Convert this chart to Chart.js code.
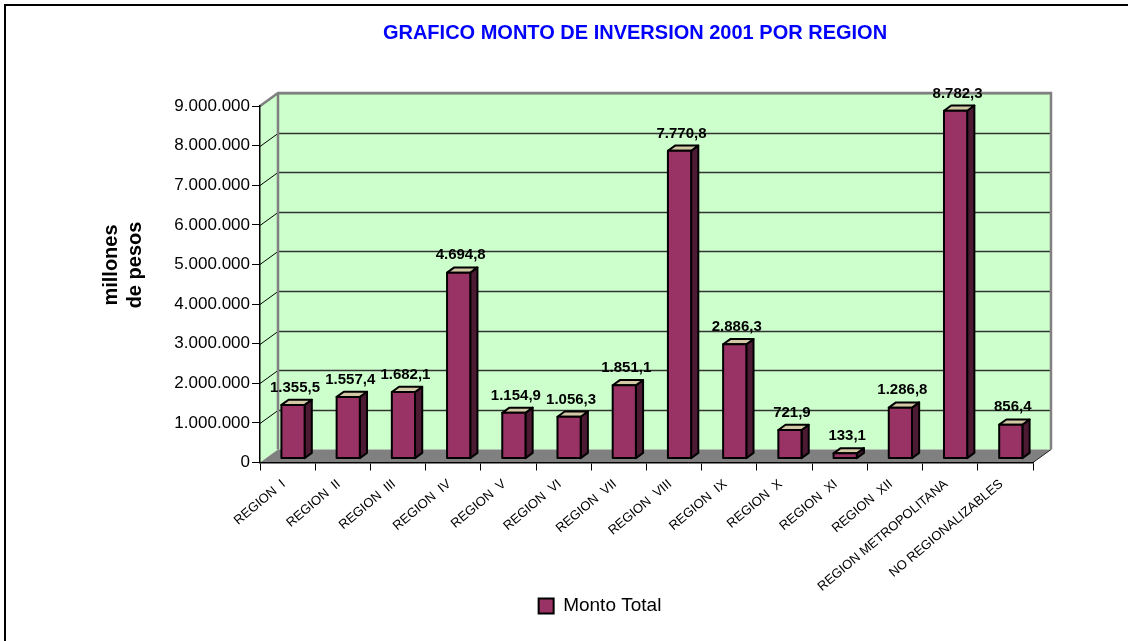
<!DOCTYPE html>
<html>
<head>
<meta charset="utf-8">
<script src="https://cdn.jsdelivr.net/npm/chart.js@4/dist/chart.umd.min.js"></script>
<style>
  html, body { margin: 0; padding: 0; background: #fff; }
  #wrap { width: 1128px; height: 641px; }
</style>
</head>
<body>
<div id="wrap"><canvas id="chart" width="1128" height="641"></canvas></div>
<script>
// ---- Data (millones de pesos, as printed on the bars) ----
const regions = [
  'REGION  I', 'REGION  II', 'REGION  III', 'REGION  IV', 'REGION  V', 'REGION  VI',
  'REGION  VII', 'REGION  VIII', 'REGION  IX', 'REGION  X', 'REGION  XI', 'REGION  XII',
  'REGION METROPOLITANA', 'NO REGIONALIZABLES'
];
const montoTotal = [1355.5, 1557.4, 1682.1, 4694.8, 1154.9, 1056.3, 1851.1, 7770.8, 2886.3, 721.9, 133.1, 1286.8, 8782.3, 856.4];
const seriesName = 'Monto Total';
const chartTitle = 'GRAFICO MONTO DE INVERSION 2001 POR REGION';
const axisTitle = ['millones', 'de pesos'];
const yMax = 9000;
const yStep = 1000;

// ---- Helpers ----
const FONT = '"Liberation Sans", Arial, sans-serif';
const DX = 18, DY = 13;           // depth of the 3D box
const F0 = 0.3, F1 = 0.7;         // bar depth position inside the box
function miles(n) { return String(Math.round(n)).replace(/\B(?=(\d{3})+(?!\d))/g, '.'); }
function fmtLabel(v) { const [i, d] = v.toFixed(1).split('.'); return miles(Number(i)) + ',' + d; }
function poly(ctx, pts) {
  ctx.beginPath();
  ctx.moveTo(pts[0][0], pts[0][1]);
  for (let i = 1; i < pts.length; i++) ctx.lineTo(pts[i][0], pts[i][1]);
  ctx.closePath();
}

// walls, floor, grid, frame, titles
const walls = {
  id: 'walls',
  beforeDraw(chart) {
    const { ctx, chartArea: a } = chart;
    const ys = chart.scales.y;
    ctx.save();
    ctx.fillStyle = '#fff';
    ctx.fillRect(0, 0, chart.width, chart.height);

    // outer frame
    ctx.strokeStyle = '#000'; ctx.lineWidth = 2;
    ctx.strokeRect(5, 5, chart.width + 20, chart.height + 20);

    // left wall + back wall
    ctx.fillStyle = '#ccffcc';
    poly(ctx, [[a.left, a.top], [a.left + DX, a.top - DY], [a.left + DX, a.bottom - DY], [a.left, a.bottom]]);
    ctx.fill();
    ctx.fillRect(a.left + DX, a.top - DY, a.right - a.left, a.bottom - a.top);

    // floor
    ctx.fillStyle = '#808080';
    poly(ctx, [[a.left, a.bottom], [a.left + DX, a.bottom - DY], [a.right + DX, a.bottom - DY], [a.right, a.bottom]]);
    ctx.fill();
    ctx.strokeStyle = '#222'; ctx.lineWidth = 1;
    ctx.beginPath();
    ctx.moveTo(a.right, a.bottom); ctx.lineTo(a.right + DX, a.bottom - DY);
    ctx.stroke();

    // gridlines on the back wall, diagonals on the left wall
    ys.ticks.forEach(t => {
      if (t.value === 0) return;
      const y = Math.round(ys.getPixelForValue(t.value)) + 0.5;
      ctx.strokeStyle = '#000'; ctx.lineWidth = 1;
      ctx.beginPath();
      ctx.moveTo(a.left, y); ctx.lineTo(a.left + DX, y - DY);
      ctx.stroke();
      ctx.strokeStyle = '#333'; ctx.lineWidth = 1.3;
      ctx.beginPath();
      ctx.moveTo(a.left + DX, y - DY); ctx.lineTo(a.right + DX, y - DY);
      ctx.stroke();
    });

    // grey edges of the box
    ctx.strokeStyle = '#808080'; ctx.lineWidth = 2.5;
    ctx.beginPath();
    ctx.moveTo(a.left, a.top);
    ctx.lineTo(a.left + DX, a.top - DY);
    ctx.lineTo(a.right + DX, a.top - DY);
    ctx.lineTo(a.right + DX, a.bottom - DY);
    ctx.moveTo(a.left + DX, a.top - DY);
    ctx.lineTo(a.left + DX, a.bottom - DY);
    ctx.stroke();

    // chart title
    ctx.fillStyle = '#0000ff';
    ctx.font = 'bold 20px ' + FONT;
    ctx.textAlign = 'center'; ctx.textBaseline = 'alphabetic';
    ctx.fillText(chartTitle, 635, 39);

    // y axis title, two rotated lines
    ctx.fillStyle = '#000';
    ctx.font = 'bold 20px ' + FONT;
    axisTitle.forEach((line, i) => {
      ctx.save();
      ctx.translate(117 + i * 24, 265);
      ctx.rotate(-Math.PI / 2);
      ctx.fillText(line, 0, 0);
      ctx.restore();
    });
    ctx.restore();
  }
};

// 3D bars + value labels, drawn from the bar elements
const bars3d = {
  id: 'bars3d',
  beforeDatasetsDraw(chart) {
    const { ctx } = chart;
    const meta = chart.getDatasetMeta(0);
    const ox = DX * F0, oy = DY * F0;
    const sx = DX * (F1 - F0), sy = DY * (F1 - F0);
    ctx.save();
    ctx.lineJoin = 'round';
    meta.data.forEach((el, i) => {
      const p = el.getProps(['x', 'y', 'base', 'width'], true);
      const L = p.x - p.width / 2 + ox, R = p.x + p.width / 2 + ox;
      const T = p.y - oy, B = p.base - oy;
      ctx.lineWidth = 2; ctx.strokeStyle = '#000';
      // side
      ctx.fillStyle = '#4d1a33';
      poly(ctx, [[R, T], [R + sx, T - sy], [R + sx, B - sy], [R, B]]);
      ctx.fill(); ctx.stroke();
      // top
      ctx.fillStyle = '#d2c8a5';
      poly(ctx, [[L, T], [L + sx, T - sy], [R + sx, T - sy], [R, T]]);
      ctx.fill(); ctx.stroke();
      // front
      ctx.fillStyle = '#993366';
      ctx.fillRect(L, T, R - L, B - T);
      ctx.strokeRect(L, T, R - L, B - T);

      // value label
      ctx.fillStyle = '#000';
      ctx.font = 'bold 15px ' + FONT;
      ctx.textAlign = 'center'; ctx.textBaseline = 'alphabetic';
      ctx.fillText(fmtLabel(montoTotal[i]), (L + R) / 2 + 2, T - sy - 8);
    });
    ctx.restore();
    return false; // bars are drawn here, skip the flat ones
  }
};

new Chart(document.getElementById('chart'), {
  type: 'bar',
  data: {
    labels: regions,
    datasets: [{
      label: seriesName,
      data: montoTotal,
      backgroundColor: '#993366',
      borderColor: '#000',
      borderWidth: 2,
      categoryPercentage: 1,
      barPercentage: 0.42
    }]
  },
  options: {
    responsive: false,
    animation: false,
    devicePixelRatio: 1,
    layout: { padding: { left: 167, right: 95, top: 106, bottom: 15.5 } },
    plugins: {
      title: { display: false },
      tooltip: { enabled: false },
      legend: {
        position: 'bottom',
        labels: { font: { family: FONT, size: 19 }, color: '#000', boxWidth: 15, boxHeight: 15, padding: 0 }
      }
    },
    scales: {
      x: {
        grid: { drawOnChartArea: false, color: '#000', tickLength: 8, offset: true },
        border: { color: '#000', width: 1.5 },
        ticks: { font: { family: FONT, size: 13 }, color: '#000', minRotation: 40, maxRotation: 40, padding: 6, labelOffset: -4, autoSkip: false },
        afterFit(s) { s.height = 134; }
      },
      y: {
        min: 0, max: yMax,
        grid: { drawOnChartArea: false, color: '#000', tickLength: 8 },
        border: { color: '#000', width: 1.5 },
        ticks: { stepSize: yStep, font: { family: FONT, size: 17 }, color: '#000', padding: 2, callback: (v) => miles(v * 1000) },
        afterFit(s) { s.width = 93; }
      }
    }
  },
  plugins: [walls, bars3d]
});
</script>
</body>
</html>
